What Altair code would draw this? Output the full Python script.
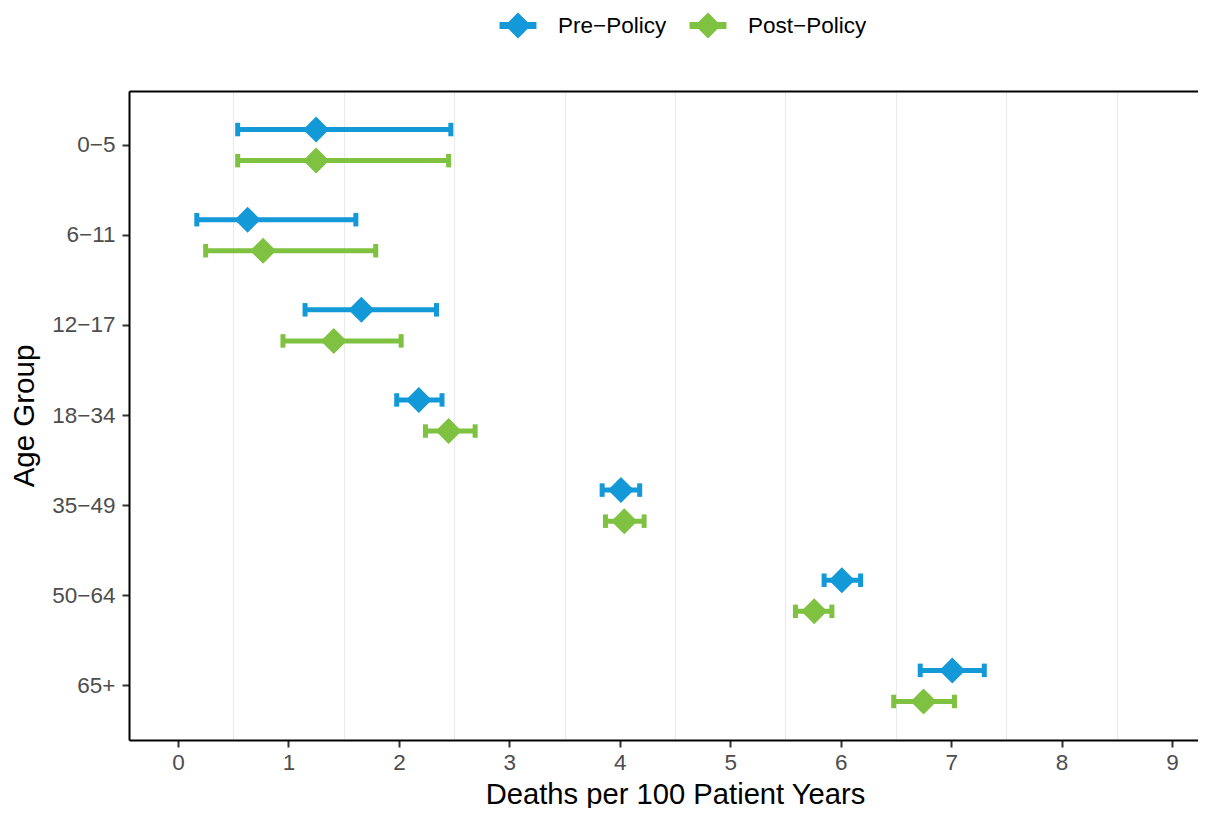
import altair as alt
import pandas as pd

age_groups = ["0−5", "6−11", "12−17", "18−34", "35−49", "50−64", "65+"]
periods = ["Pre−Policy", "Post−Policy"]

pre_rate = [1.25, 0.63, 1.66, 2.18, 4.01, 6.01, 7.01]
pre_lo = [0.54, 0.17, 1.15, 1.98, 3.84, 5.85, 6.72]
pre_hi = [2.47, 1.61, 2.34, 2.39, 4.18, 6.18, 7.30]

post_rate = [1.25, 0.77, 1.41, 2.45, 4.04, 5.76, 6.75]
post_lo = [0.54, 0.25, 0.95, 2.24, 3.87, 5.59, 6.48]
post_hi = [2.45, 1.79, 2.02, 2.69, 4.22, 5.92, 7.03]

x_ticks = [0, 1, 2, 3, 4, 5, 6, 7, 8, 9]
x_grid = [0.5, 1.5, 2.5, 3.5, 4.5, 5.5, 6.5, 7.5, 8.5]

colors = ["#1399D7", "#7FC241"]

rows = []
for i, g in enumerate(age_groups):
    rows.append({"group": g, "period": periods[0], "rate": pre_rate[i], "lo": pre_lo[i], "hi": pre_hi[i]})
    rows.append({"group": g, "period": periods[1], "rate": post_rate[i], "lo": post_lo[i], "hi": post_hi[i]})
df = pd.DataFrame(rows)

FONT = "Liberation Sans"
x_scale = alt.Scale(domain=[-0.444, 9.235], nice=False, zero=False)

y_enc = alt.Y(
    "group:N",
    sort=age_groups,
    scale=alt.Scale(paddingInner=0, paddingOuter=0.1),
    axis=alt.Axis(
        title="Age Group",
        titleFontSize=29.5,
        titleFontWeight="normal",
        titleColor="#000000",
        titleFont=FONT,
        titleAngle=270,
        titleX=-96,
        titleY=324.5,
        titleAlign="center",
        titleBaseline="alphabetic",
        labelFont=FONT,
        labelFontSize=22.5,
        labelColor="#4D4D4D",
        labelPadding=7,
        tickColor="#333333",
        tickWidth=2,
        tickSize=7,
        domainColor="#000000",
        domainWidth=2,
        grid=False,
    ),
)
yoff_enc = alt.YOffset("period:N", sort=periods, scale=alt.Scale(paddingInner=0, paddingOuter=0.45))
color_scale = alt.Scale(domain=periods, range=colors)
color_nolegend = alt.Color("period:N", sort=periods, scale=color_scale, legend=None)

base = alt.Chart(df)

bars = base.mark_rule(strokeWidth=5).encode(
    x=alt.X(
        "lo:Q",
        scale=x_scale,
        axis=alt.Axis(
            orient="bottom",
            values=x_ticks,
            grid=False,
            title="Deaths per 100 Patient Years",
            titleFontSize=29.2,
            titleFontWeight="normal",
            titleColor="#000000",
            titleFont=FONT,
            titleX=546,
            titleY=63,
            titleAlign="center",
            titleBaseline="alphabetic",
            labelFont=FONT,
            labelFontSize=22.5,
            labelColor="#4D4D4D",
            labelPadding=4.5,
            tickColor="#333333",
            tickWidth=2,
            tickSize=7,
            domainColor="#000000",
            domainWidth=2,
        ),
    ),
    x2="hi:Q",
    y=y_enc,
    yOffset=yoff_enc,
    color=color_nolegend,
)

caps = base.transform_fold(["lo", "hi"], as_=["end", "xval"]).mark_tick(
    thickness=5, size=13.5, opacity=1
).encode(
    x=alt.X(
        "xval:Q",
        scale=x_scale,
        title=None,
        axis=alt.Axis(
            orient="top",
            values=x_grid,
            grid=True,
            gridColor="#EBEBEB",
            gridWidth=1.2,
            labels=False,
            ticks=False,
            domain=True,
            domainColor="#000000",
            domainWidth=2,
        ),
    ),
    y=y_enc,
    yOffset=yoff_enc,
    color=color_nolegend,
)

points = base.mark_point(shape="diamond", filled=True, size=676, opacity=1).encode(
    x=alt.X("rate:Q", scale=x_scale, axis=None),
    y=y_enc,
    yOffset=yoff_enc,
    color=color_nolegend,
)

legend_path = (
    "M-1.42,-0.27L-0.73,-0.27L0,-1L0.73,-0.27L1.42,-0.27L1.42,0.27"
    "L0.73,0.27L0,1L-0.73,0.27L-1.42,0.27Z"
)

legend_layer = base.transform_filter("false").mark_point(
    shape=legend_path, filled=True, size=676, opacity=1
).encode(
    x=alt.X("rate:Q", scale=x_scale, axis=None),
    y=y_enc,
    yOffset=yoff_enc,
    color=alt.Color(
        "period:N",
        sort=periods,
        scale=color_scale,
        legend=alt.Legend(
            title=None,
            orient="none",
            direction="horizontal",
            legendX=376,
            legendY=-78.5,
            symbolType=legend_path,
            symbolSize=676,
            symbolStrokeWidth=0,
            labelFont=FONT,
            labelFontSize=22.5,
            labelColor="#000000",
            labelOffset=27,
            columnPadding=22,
            padding=0,
        ),
    ),
)

chart = (
    alt.layer(bars, caps, points, legend_layer)
    .resolve_axis(x="independent")
    .resolve_legend(color="independent")
    .properties(
        width=1069,
        height=649,
        padding={"left": 121, "top": 83, "right": 0, "bottom": 68},
        autosize=alt.AutoSizeParams(type="none"),
    )
    .configure(font=FONT)
    .configure_view(stroke="transparent")
)

chart.save("out.html", embed_options={"renderer": "svg", "actions": False})
